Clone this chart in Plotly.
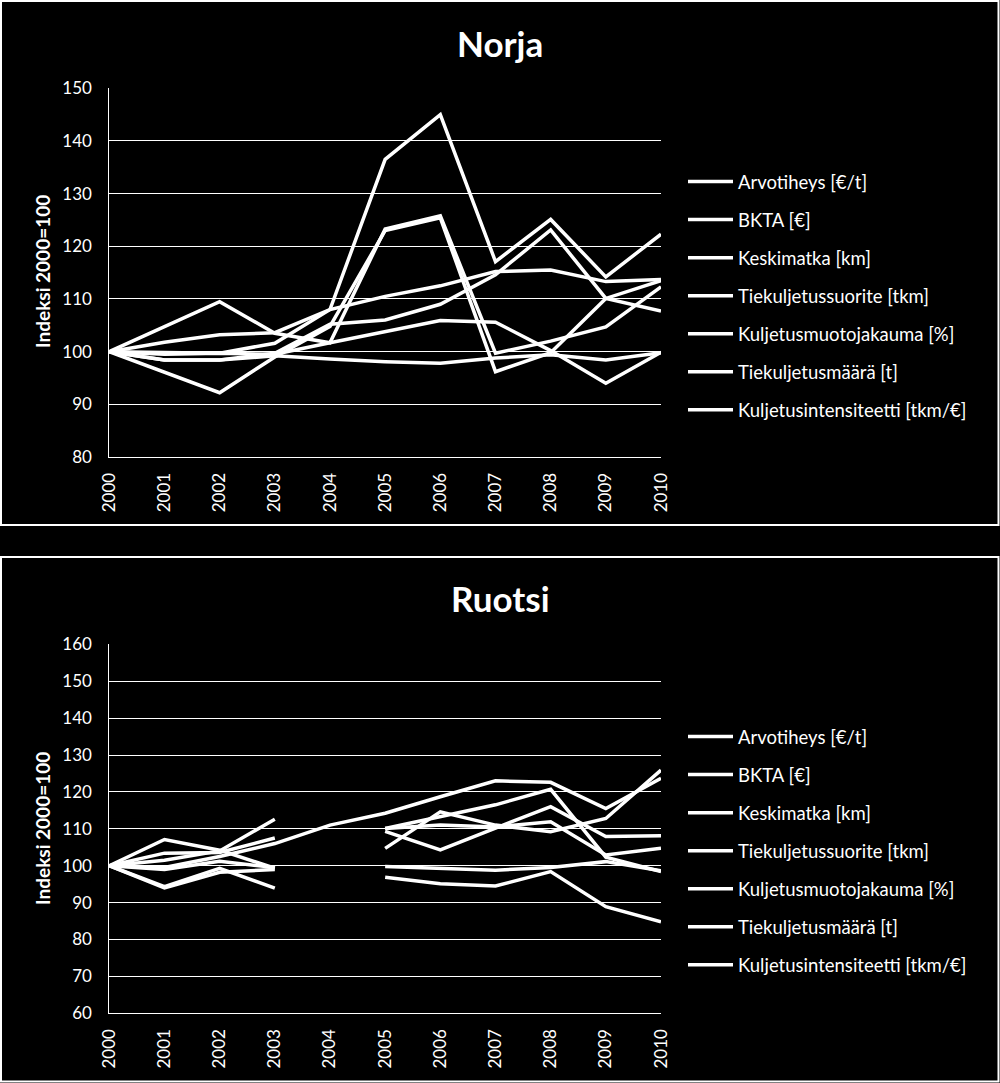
import plotly.graph_objects as go

YEARS = list(range(2000, 2011))
SERIES_NAMES = [
    "Arvotiheys [€/t]",
    "BKTA [€]",
    "Keskimatka [km]",
    "Tiekuljetussuorite [tkm]",
    "Kuljetusmuotojakauma [%]",
    "Tiekuljetusmäärä [t]",
    "Kuljetusintensiteetti [tkm/€]",
]

# Norja, indeksi 2000=100
N_ARVOTIHEYS = [100, 98.4, 98.4, 99.7, 105.2, 106.0, 109.0, 114.6, 123.1, 110.1, 107.7]
N_BKTA = [100, 99.8, 99.7, 101.6, 108.0, 110.5, 112.5, 115.2, 115.5, 113.3, 113.7]
N_KESKIMATKA = [100, 99.5, 99.7, 99.5, 101.7, 103.8, 105.9, 105.6, 100.2, 94.0, 99.9]
N_SUORITE = [100, 101.8, 103.2, 103.6, 108.0, 136.5, 145.0, 117.1, 125.1, 114.2, 122.3]
N_JAKAUMA = [100, 98.4, 98.4, 99.2, 98.6, 98.1, 97.8, 98.8, 99.4, 98.4, 99.8]
N_MAARA = [100, 104.8, 109.5, 103.5, 101.7, 123.3, 125.8, 99.7, 102.0, 104.7, 112.3]
N_INTENSITEETTI = [100, 96.1, 92.2, 99.0, 104.8, 123.0, 125.4, 96.2, 99.8, 110.1, 113.5]

# Ruotsi, indeksi 2000=100 (2004 puuttuu useimmilta)
R_ARVOTIHEYS = [100, 107.1, 104.2, 99.3, None, 110.1, 113.3, 116.5, 120.7, 102.3, 98.4]
R_BKTA = [100, 101.5, 104.0, 112.6, None, 104.7, 114.6, 111.0, 109.2, 112.8, 125.9]
R_KESKIMATKA = [100, 103.4, 103.6, 107.5, None, 109.3, 104.3, 110.2, 116.0, 107.9, 108.1]
R_SUORITE = [100, 99.5, 102.5, 106.0, 111.0, 114.2, 118.7, 123.0, 122.6, 115.5, 123.7]
R_JAKAUMA = [100, 94.3, 99.3, 93.9, None, 96.9, 95.1, 94.5, 98.4, 88.9, 84.8]
R_MAARA = [100, 94.0, 98.2, 99.0, None, 110.1, 111.0, 110.5, 111.9, 102.9, 104.7]
R_INTENSITEETTI = [100, 99.0, 101.2, 99.5, None, 99.8, 99.3, 98.8, 99.5, 101.1, 98.6]

NORJA = [N_ARVOTIHEYS, N_BKTA, N_KESKIMATKA, N_SUORITE, N_JAKAUMA, N_MAARA, N_INTENSITEETTI]
RUOTSI = [R_ARVOTIHEYS, R_BKTA, R_KESKIMATKA, R_SUORITE, R_JAKAUMA, R_MAARA, R_INTENSITEETTI]

W, H = 1000, 1083
FONT = "Lato"


def px_y(p):
    """pixel row -> paper fraction"""
    return 1 - p / H


fig = go.Figure()

for i, (name, vals) in enumerate(zip(SERIES_NAMES, NORJA)):
    fig.add_trace(go.Scatter(
        x=YEARS, y=vals, name=name, mode="lines",
        line=dict(color="white", width=3.5),
        xaxis="x", yaxis="y", legend="legend", legendgroup=f"n{i}",
        connectgaps=False,
    ))

for i, (name, vals) in enumerate(zip(SERIES_NAMES, RUOTSI)):
    fig.add_trace(go.Scatter(
        x=YEARS, y=vals, name=name, mode="lines",
        line=dict(color="white", width=3.5),
        xaxis="x2", yaxis="y2", legend="legend2", legendgroup=f"r{i}",
        connectgaps=False,
    ))

xcommon = dict(
    range=[2000, 2010], tickvals=YEARS, tickangle=-90, automargin=False,
    showgrid=False, zeroline=False, showline=True, linecolor="white", linewidth=1,
    ticks="", tickfont=dict(family=FONT, size=17, color="white"), ticklabelstandoff=8,
    fixedrange=True,
)
ycommon = dict(
    dtick=10, showgrid=True, gridcolor="white", gridwidth=1, zeroline=False,
    showline=True, linecolor="white", linewidth=1, ticks="", automargin=False,
    tickfont=dict(family=FONT, size=17, color="white"), ticklabelstandoff=13,
    fixedrange=True,
)
legcommon = dict(
    x=0.683, xanchor="left", yanchor="middle",
    font=dict(family=FONT, size=18.5, color="white"),
    bgcolor="rgba(0,0,0,0)", tracegroupgap=11, itemwidth=45,
)


def label(text, x, y, size, angle=0):
    return dict(text=text, x=x, y=y, xref="paper", yref="paper",
                xanchor="center", yanchor="middle", textangle=angle,
                showarrow=False, font=dict(family=FONT, size=size, color="white"))


fig.update_layout(
    width=W, height=H,
    margin=dict(l=0, r=0, t=0, b=0, autoexpand=False),
    paper_bgcolor="black", plot_bgcolor="black",
    font=dict(family=FONT, color="white"),
    xaxis=dict(domain=[0.1093, 0.661], anchor="y", **xcommon),
    yaxis=dict(domain=[px_y(457), px_y(88.3)], range=[80, 150], anchor="x", **ycommon),
    xaxis2=dict(domain=[0.1093, 0.661], anchor="y2", **xcommon),
    yaxis2=dict(domain=[px_y(1013.3), px_y(644.3)], range=[60, 160], anchor="x2", **ycommon),
    legend=dict(y=px_y(296), **legcommon),
    legend2=dict(y=px_y(851), **legcommon),
    shapes=[
        dict(type="rect", xref="paper", yref="paper", x0=0.001, x1=0.9985,
             y0=px_y(525), y1=px_y(1), line=dict(color="white", width=2)),
        dict(type="rect", xref="paper", yref="paper", x0=0.001, x1=0.9985,
             y0=px_y(1081.5), y1=px_y(557), line=dict(color="white", width=2)),
    ],
    annotations=[
        label("<b>Norja</b>", 0.5, px_y(43), 35),
        label("<b>Ruotsi</b>", 0.5, px_y(598), 35),
        label("<b>Indeksi 2000=100</b>", 0.042, px_y(272), 19, -90),
        label("<b>Indeksi 2000=100</b>", 0.042, px_y(829), 19, -90),
    ],
)

fig.write_html(
    "out.html",
    config={"displayModeBar": False},
    post_script="document.body.style.margin='0';document.body.style.overflow='hidden';",
)
